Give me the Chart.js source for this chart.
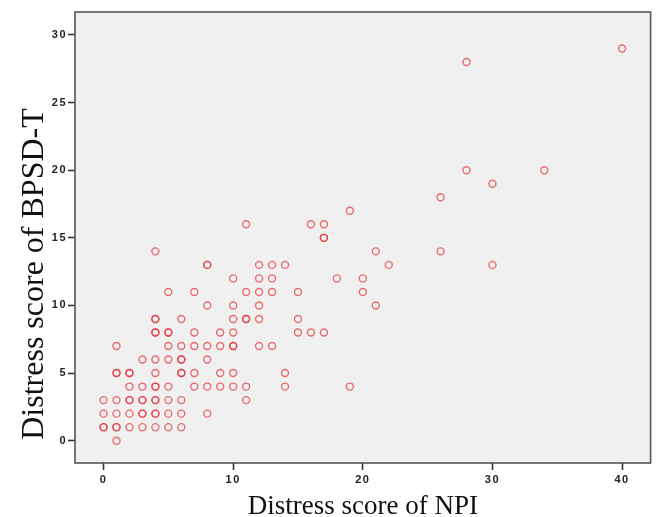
<!DOCTYPE html>
<html>
<head>
<meta charset="utf-8">
<script src="https://cdn.jsdelivr.net/npm/chart.js@4.4.1/dist/chart.umd.min.js"></script>
<style>
  html, body { margin: 0; padding: 0; background: #fff; }
  #wrap { width: 656px; height: 517px; }
</style>
</head>
<body>
<div id="wrap"><canvas id="scatter" width="656" height="517"></canvas></div>
<script>
// one entry per subject: NPI distress (x) and BPSD-T distress (y)
// some pairs appear twice, where the reference shows overlapping (darker) circles
var npiScores = [
  1,
  0, 1, 2, 3, 4, 5, 6, 0, 1,
  0, 1, 2, 3, 4, 5, 6, 8, 3, 4,
  0, 1, 2, 3, 4, 5, 6, 11, 2, 3, 4,
  2, 3, 4, 5, 7, 8, 9, 10, 11, 14, 19, 4,
  1, 2, 4, 6, 7, 9, 10, 14, 1, 2, 6,
  3, 4, 5, 6, 8, 6,
  1, 5, 6, 7, 8, 9, 10, 12, 13, 10,
  4, 5, 7, 9, 10, 15, 16, 17, 4, 5,
  4, 6, 10, 11, 12, 15, 4, 11,
  8, 10, 12, 21,
  5, 7, 11, 12, 13, 15, 20,
  10, 12, 13, 18, 20,
  8, 12, 13, 14, 22, 30, 8,
  4, 21, 26,
  17, 17,
  11, 16, 17,
  19,
  26,
  30,
  28, 34,
  28,
  40
];
var bpsdScores = [
  0,
  1, 1, 1, 1, 1, 1, 1, 1, 1,
  2, 2, 2, 2, 2, 2, 2, 2, 2, 2,
  3, 3, 3, 3, 3, 3, 3, 3, 3, 3, 3,
  4, 4, 4, 4, 4, 4, 4, 4, 4, 4, 4, 4,
  5, 5, 5, 5, 5, 5, 5, 5, 5, 5, 5,
  6, 6, 6, 6, 6, 6,
  7, 7, 7, 7, 7, 7, 7, 7, 7, 7,
  8, 8, 8, 8, 8, 8, 8, 8, 8, 8,
  9, 9, 9, 9, 9, 9, 9, 9,
  10, 10, 10, 10,
  11, 11, 11, 11, 11, 11, 11,
  12, 12, 12, 12, 12,
  13, 13, 13, 13, 13, 13, 13,
  14, 14, 14,
  15, 15,
  16, 16, 16,
  17,
  18,
  19,
  20, 20,
  28,
  29
];
var xTickValues = [0, 10, 20, 30, 40];
var yTickValues = [0, 5, 10, 15, 20, 25, 30];
var xTitle = 'Distress score of NPI';
var yTitle = 'Distress score of BPSD-T';

var points = npiScores.map(function(x, i) { return { x: x, y: bpsdScores[i] }; });

var tickFont = { family: '"Liberation Sans", Arial, sans-serif', size: 11, weight: 'bold' };

// grey plot box, dark frame and the two serif axis titles
var framePlugin = {
  id: 'frame',
  beforeDraw: function(chart) {
    var a = chart.chartArea;
    var ctx = chart.ctx;
    ctx.save();
    ctx.fillStyle = '#f0f0f0';
    ctx.fillRect(a.left, a.top, a.right - a.left, a.bottom - a.top);
    ctx.restore();
    ctx.letterSpacing = '1.5px';
  },
  afterDraw: function(chart) {
    var a = chart.chartArea;
    var ctx = chart.ctx;
    ctx.letterSpacing = '0px';
    ctx.save();
    ctx.strokeStyle = '#555';
    ctx.lineWidth = 1.6;
    ctx.strokeRect(a.left, a.top, a.right - a.left, a.bottom - a.top);

    ctx.fillStyle = '#111';
    ctx.textAlign = 'center';
    ctx.textBaseline = 'alphabetic';
    ctx.font = '27px "Liberation Serif", "Times New Roman", serif';
    ctx.fillText(xTitle, (a.left + a.right) / 2, 514);

    ctx.translate(43, 274);
    ctx.rotate(-Math.PI / 2);
    ctx.font = '32px "Liberation Serif", "Times New Roman", serif';
    ctx.fillText(yTitle, 0, 0);
    ctx.restore();
  }
};

new Chart(document.getElementById('scatter').getContext('2d'), {
  type: 'scatter',
  data: {
    datasets: [{
      data: points,
      pointStyle: 'circle',
      pointRadius: 3.5,
      pointBorderWidth: 1.4,
      pointBackgroundColor: 'rgba(0,0,0,0)',
      pointBorderColor: 'rgba(225,45,55,0.68)'
    }]
  },
  options: {
    responsive: false,
    animation: false,
    layout: { padding: { top: 12, right: 4, left: 0, bottom: 0 } },
    plugins: { legend: { display: false }, tooltip: { enabled: false } },
    scales: {
      x: {
        type: 'linear',
        min: -2.2,
        max: 42.2,
        afterBuildTicks: function(axis) { axis.ticks = xTickValues.map(function(v) { return { value: v }; }); },
        afterFit: function(axis) { axis.height = 54; },
        border: { display: false },
        grid: { display: true, drawOnChartArea: false, drawTicks: true, tickLength: 7, tickColor: '#333', tickWidth: 1.6 },
        ticks: { font: tickFont, color: '#222', padding: 3, autoSkip: false, maxRotation: 0 }
      },
      y: {
        type: 'linear',
        min: -1.65,
        max: 31.7,
        afterBuildTicks: function(axis) { axis.ticks = yTickValues.map(function(v) { return { value: v }; }); },
        afterFit: function(axis) { axis.width = 75; },
        border: { display: false },
        grid: { display: true, drawOnChartArea: false, drawTicks: true, tickLength: 7, tickColor: '#333', tickWidth: 1.6 },
        ticks: { font: tickFont, color: '#222', padding: 1, autoSkip: false }
      }
    }
  },
  plugins: [framePlugin]
});
</script>
</body>
</html>
